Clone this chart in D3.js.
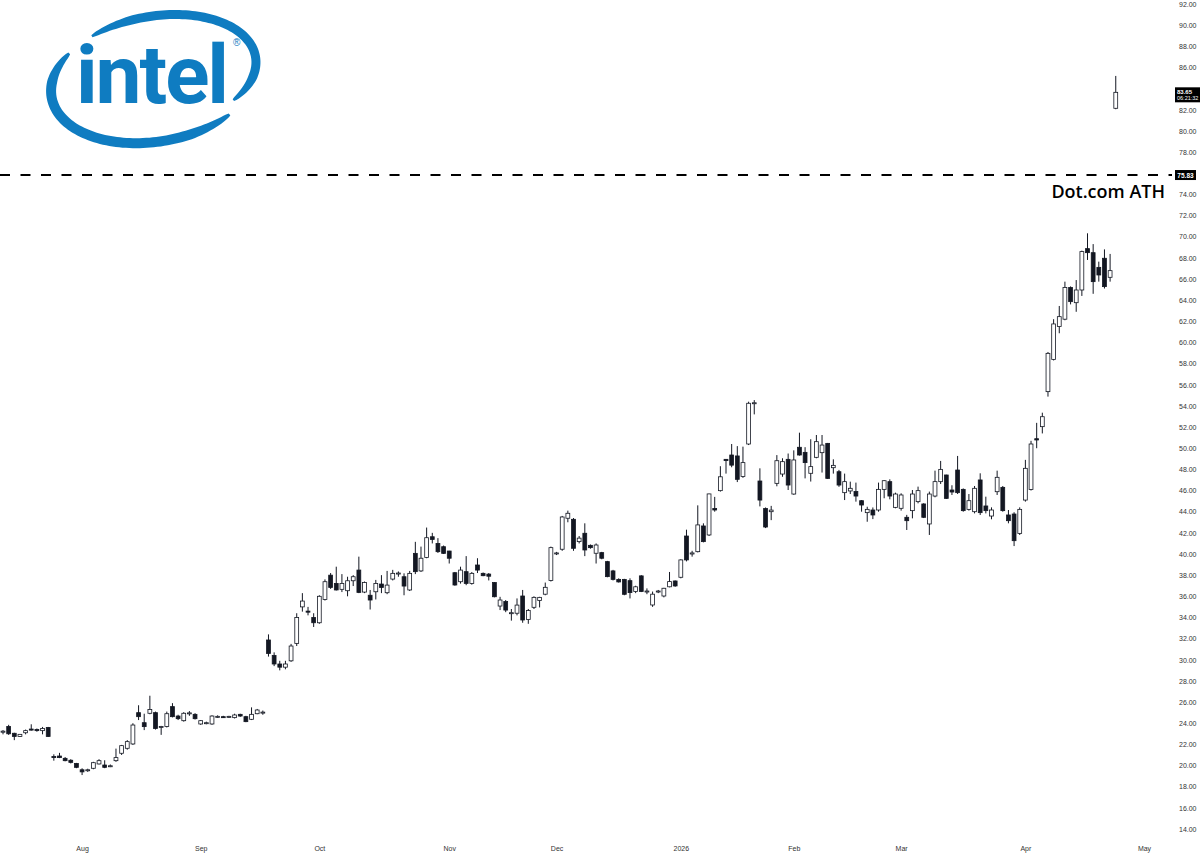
<!DOCTYPE html>
<html>
<head>
<meta charset="utf-8">
<script src="https://cdn.jsdelivr.net/npm/d3@7"></script>
<style>
  body { margin: 0; background: #fff; }
  svg { display: block; font-family: "Liberation Sans", Arial, sans-serif; }
</style>
</head>
<body>
<div id="chart"></div>
<script>
// INTC daily candles, 14 Jul 2025 - 24 Apr 2026
const firstSession = "2025-07-14";
const lastSession = "2026-05-01";   // axis runs past the last candle, like the screenshot
const holidays = ["2025-09-01", "2025-11-27", "2025-12-25", "2026-01-01", "2026-01-19", "2026-02-16", "2026-04-03"];

const opens = [
  23.15, 23.7, 23.05, 22.75, 23.1, 23.45, 23.4, 23.3, 23.6,
  20.85, 20.9, 20.68, 20.5, 20.2,
  19.6, 19.55, 19.74, 20.15, 20.05, 19.95,
  20.46, 21.16, 21.63, 22.04, 25.0,
  24.05, 24.94, 25.0, 23.68, 23.7,
  25.57, 24.68, 24.24, 24.9, 24.84,
  23.93, 24.0, 23.93, 24.6,
  24.62, 24.6, 24.53, 24.84, 24.62,
  24.37, 24.9, 25.0, 31.87, 30.4,
  29.6, 29.3, 29.9, 31.55, 35.0,
  34.6, 34.0, 33.5, 35.7, 38.0,
  37.22, 36.66, 36.53, 37.47, 38.48,
  36.4, 36.1, 36.43, 37.16, 36.34,
  37.63, 38.17, 37.85, 36.6, 40.06,
  38.4, 39.68, 41.63, 41.0, 40.69,
  40.28, 38.23, 37.38, 38.33, 37.22,
  38.96, 38.17, 38.1, 37.3, 35.08,
  35.5, 34.4, 34.4, 36.03, 33.8,
  34.96, 35.6, 36.2, 37.5, 40.05,
  40.45, 43.38, 43.28, 41.17, 41.96,
  40.82, 40.07, 40.13, 39.28, 38.4,
  37.6, 37.6, 37.48, 36.45, 37.93,
  36.45, 35.18, 36.45, 36.03, 36.9,
  37.45, 37.8, 41.7, 40.0, 40.22,
  42.65, 41.8, 44.3, 45.99, 48.95,
  49.36, 49.27, 47.32, 50.4, 54.25,
  46.9, 44.3, 44.0, 46.68, 47.56,
  48.95, 45.67, 50.09, 49.61, 47.63,
  49.14, 49.58, 50.46, 48.16, 47.78,
  45.8, 45.96, 45.9, 45.04, 43.91,
  44.16, 44.16, 46.11, 46.84, 44.41,
  44.32, 43.47, 44.1, 44.95, 44.73,
  42.84, 45.48, 46.84, 47.47, 46.05,
  47.94, 46.11, 44.22, 44.0, 47.0,
  44.54, 43.59, 45.89, 46.3, 43.69,
  43.78, 41.95, 45.1, 46.1, 50.9,
  52.04, 55.35, 58.4, 61.5, 62.2,
  65.2, 63.76, 64.96, 68.87, 68.49,
  67.1, 67.96, 66.16, 82.14
];
const highs = [
  23.35, 23.85, 23.1, 22.95, 23.4, 23.9, 23.5, 23.65, 23.65,
  21.06, 21.2, 20.8, 20.6, 20.25,
  19.74, 19.7, 20.35, 20.6, 20.5, 20.1,
  21.6, 21.95, 22.4, 24.0, 25.7,
  24.9, 26.6, 25.1, 23.75, 25.1,
  25.9, 24.8, 25.05, 25.15, 24.95,
  24.3, 24.15, 24.75, 24.75,
  24.7, 24.7, 24.9, 24.9, 24.7,
  25.5, 25.35, 25.2, 32.4, 30.7,
  29.9, 29.9, 31.5, 34.4, 36.3,
  35.0, 34.4, 36.1, 37.6, 38.2,
  38.8, 38.1, 37.85, 38.0, 39.75,
  37.4, 36.6, 37.55, 38.0, 38.4,
  38.5, 38.35, 38.17, 38.4, 41.15,
  40.7, 42.5, 42.0, 41.5, 40.8,
  40.3, 38.3, 38.8, 39.8, 38.3,
  39.6, 38.25, 38.2, 37.35, 35.95,
  35.65, 34.8, 35.8, 36.6, 34.8,
  36.0, 35.95, 37.3, 40.7, 40.2,
  43.6, 44.1, 43.4, 41.7, 42.9,
  40.9, 41.0, 40.2, 39.35, 38.5,
  37.7, 37.65, 37.7, 37.0, 38.0,
  36.75, 36.45, 36.6, 36.8, 38.3,
  37.5, 39.5, 42.3, 40.3, 44.6,
  42.9, 45.7, 45.4, 48.3, 48.98,
  50.4, 50.2, 50.15, 54.4, 54.55,
  48.1, 44.4, 44.55, 49.35, 49.05,
  49.5, 49.8, 51.47, 50.1, 50.85,
  51.25, 51.25, 50.5, 48.95, 47.95,
  47.6, 46.84, 46.75, 45.1, 44.47,
  44.4, 46.75, 46.99, 47.06, 45.8,
  45.74, 43.7, 46.05, 46.37, 44.8,
  45.9, 47.88, 48.8, 47.5, 46.5,
  49.27, 46.2, 45.67, 46.43, 47.63,
  45.42, 44.41, 47.88, 46.43, 44.16,
  43.95, 44.41, 48.9, 50.7, 52.4,
  53.36, 59.1, 62.2, 63.45, 65.75,
  65.3, 65.9, 68.68, 70.32, 69.3,
  67.64, 68.8, 68.37, 85.2
];
const lows = [
  22.95, 22.9, 22.4, 22.7, 22.95, 23.3, 23.2, 22.95, 22.7,
  20.46, 20.7, 20.4, 20.2, 19.75,
  19.1, 19.4, 19.65, 20.1, 19.75, 19.85,
  20.35, 21.0, 21.5, 21.95, 24.3,
  23.35, 24.85, 23.4, 22.9, 23.6,
  24.55, 24.3, 24.15, 24.7, 24.35,
  23.85, 23.9, 23.85, 24.5,
  24.5, 24.5, 24.45, 24.6, 24.1,
  24.3, 24.85, 24.8, 30.3, 29.4,
  29.0, 29.1, 29.8, 31.3, 34.55,
  34.2, 33.1, 33.4, 35.6, 36.7,
  36.55, 36.4, 36.0, 36.97, 36.3,
  36.3, 34.75, 35.7, 36.3, 36.2,
  37.5, 37.85, 36.1, 36.5, 38.1,
  38.3, 39.6, 41.0, 40.1, 40.0,
  39.1, 37.0, 37.2, 37.05, 37.1,
  38.2, 37.9, 37.5, 35.9, 34.7,
  34.5, 33.7, 34.2, 33.5, 33.4,
  34.8, 34.95, 36.1, 37.4, 39.9,
  40.3, 43.0, 40.3, 41.0, 39.8,
  40.5, 39.1, 39.5, 37.8, 37.5,
  37.3, 36.1, 35.8, 36.3, 36.4,
  36.2, 35.0, 36.3, 35.9, 36.85,
  36.9, 37.7, 39.3, 39.75, 40.15,
  41.1, 41.7, 44.0, 45.9, 47.6,
  48.2, 46.8, 47.2, 50.3, 53.2,
  44.5, 42.45, 43.2, 46.4, 47.3,
  46.05, 45.6, 49.3, 47.15, 46.85,
  49.05, 47.7, 47.1, 47.6, 46.35,
  45.1, 45.67, 44.95, 44.0, 43.05,
  43.3, 44.0, 45.27, 45.17, 44.32,
  44.1, 42.27, 43.37, 44.79, 43.4,
  41.8, 45.36, 46.62, 45.2, 45.58,
  45.67, 44.0, 44.1, 43.84, 43.69,
  43.84, 43.28, 45.58, 44.0, 42.9,
  40.75, 41.8, 44.95, 46.0, 50.0,
  51.4, 54.88, 58.3, 60.87, 62.1,
  63.6, 62.9, 64.4, 67.8, 64.6,
  65.75, 65.1, 65.75, 82.05
];
const closes = [
  23.25, 23.0, 22.75, 22.95, 23.3, 23.35, 23.3, 23.5, 22.75,
  20.75, 20.75, 20.46, 20.3, 19.83,
  19.4, 19.6, 20.27, 20.46, 19.83, 19.98,
  20.75, 21.88, 22.26, 23.83, 24.62,
  23.68, 25.3, 23.5, 23.7, 24.9,
  24.62, 24.43, 24.94, 24.98, 24.43,
  24.24, 24.05, 24.68, 24.65,
  24.6, 24.65, 24.78, 24.68, 24.15,
  24.84, 25.25, 25.05, 30.6, 29.6,
  29.3, 29.6, 31.3, 34.0, 35.55,
  34.5, 33.5, 36.0, 37.38, 36.84,
  36.6, 37.22, 37.47, 37.85, 36.37,
  37.3, 35.65, 37.22, 36.84, 37.06,
  38.17, 38.2, 36.97, 38.17, 38.33,
  39.6, 41.54, 41.38, 40.22, 40.06,
  39.6, 37.07, 38.48, 37.22, 38.17,
  38.48, 37.95, 37.9, 35.96, 35.65,
  34.7, 34.45, 35.17, 33.76, 34.65,
  35.9, 35.9, 36.85, 40.6, 40.1,
  43.5, 43.85, 40.54, 41.5, 40.38,
  40.6, 40.85, 39.6, 37.86, 37.6,
  37.36, 36.19, 36.35, 36.9, 36.45,
  36.5, 36.2, 36.5, 36.76, 37.39,
  36.98, 39.44, 39.44, 40.1, 42.75,
  41.17, 45.68, 44.16, 47.3, 48.83,
  48.4, 47.06, 48.64, 54.25, 54.3,
  45.1, 42.55, 44.15, 48.82, 48.73,
  46.52, 48.89, 49.36, 48.64, 48.26,
  50.62, 50.3, 47.15, 48.38, 46.52,
  46.84, 46.21, 45.48, 44.63, 44.22,
  43.69, 46.11, 46.93, 45.48, 45.67,
  45.58, 43.15, 45.67, 45.99, 43.47,
  45.67, 46.84, 48.0, 45.26, 45.86,
  45.8, 44.1, 45.04, 46.21, 43.91,
  44.1, 44.16, 47.25, 44.1, 43.15,
  41.26, 44.22, 48.1, 50.4, 50.78,
  52.98, 58.97, 61.75, 62.44, 65.2,
  63.86, 64.96, 68.59, 68.49, 65.75,
  66.38, 65.28, 66.79, 83.65
];

// scale labels; 76 and 84 sit under the price tags
const yTicks = [14, 16, 18, 20, 22, 24, 26, 28, 30, 32, 34, 36, 38, 40, 42, 44, 46, 48, 50, 52,
  54, 56, 58, 60, 62, 64, 66, 68, 70, 72, 74, 78, 80, 82, 86, 88, 90, 92];
const monthNames = ["Jan", "Feb", "Mar", "Apr", "May", "Jun", "Jul", "Aug", "Sep", "Oct", "Nov", "Dec"];

const athLevel = 75.83;
const athText = "Dot.com ATH";
const lastPrice = 83.65;
const countdown = "06:21:32";

const width = 1200, height = 853;
const blue = "#0f7cc1";

// trading sessions (weekdays minus exchange holidays)
const sessions = [];
for (let d = new Date(firstSession + "T12:00:00Z"); d <= new Date(lastSession + "T12:00:00Z"); d.setUTCDate(d.getUTCDate() + 1)) {
  const s = d.toISOString().slice(0, 10);
  if (d.getUTCDay() === 0 || d.getUTCDay() === 6 || holidays.includes(s)) continue;
  sessions.push(s);
}

const candles = opens.map((o, i) => ({
  date: sessions[i], o, h: highs[i], l: lows[i], c: closes[i]
}));

const monthStarts = sessions.filter((s, i) => i > 0 && s.slice(5, 7) !== sessions[i - 1].slice(5, 7));

// January shows the year instead of the month
const monthLabel = s => {
  const m = +s.slice(5, 7);
  return m === 1 ? s.slice(0, 4) : monthNames[m - 1];
};

const x = d3.scalePoint()
  .domain(sessions)
  .range([3, 1144]);

const y = d3.scaleLinear()
  .domain([14, 92])
  .range([829, 4]);

const svg = d3.select("#chart")
  .append("svg")
  .attr("width", width)
  .attr("height", height);

svg.append("rect").attr("width", width).attr("height", height).attr("fill", "#fff");

// ---- intel logo ----
const logo = svg.append("g").attr("fill", blue);

const C = [157, 79], ra = 107, rb = 63, phi = -10 * Math.PI / 180;
const onEllipse = (t, s) => {
  const ex = s * ra * Math.cos(t), ey = s * rb * Math.sin(t);
  return [C[0] + ex * Math.cos(phi) - ey * Math.sin(phi), C[1] + ex * Math.sin(phi) + ey * Math.cos(phi)];
};
const ribbon = (t0, t1, sEnd, w) => {
  const n = 90, left = [], right = [];
  const at = u => onEllipse(t0 + (t1 - t0) * u, 1 - (1 - sEnd) * Math.pow(u, 3));
  for (let i = 0; i <= n; i++) {
    const u = i / n;
    const p = at(u), q = at(Math.min(1, u + 0.005)), r = at(Math.max(0, u - 0.005));
    const tx = q[0] - r[0], ty = q[1] - r[1], len = Math.hypot(tx, ty);
    const taper = Math.pow(Math.min(1, u / 0.15, (1 - u) / 0.15), 0.6);
    const hw = (w * (0.25 + 0.75 * taper)) / 2;
    left.push([p[0] - ty / len * hw, p[1] + tx / len * hw]);
    right.push([p[0] + ty / len * hw, p[1] - tx / len * hw]);
  }
  return "M" + left.concat(right.reverse()).map(p => p.join(",")).join("L") + "Z";
};
const rad = deg => deg * Math.PI / 180;
logo.append("path").attr("d", ribbon(rad(-122), rad(39), 0.86, 9));
logo.append("path").attr("d", ribbon(rad(220), rad(51), 0.97, 10));

const word = logo.append("text")
  .attr("x", 76)
  .attr("y", 103)
  .attr("font-family", "Roboto, 'Liberation Sans', sans-serif")
  .attr("font-weight", 700)
  .attr("font-size", 82)
  .text("intel");
// squeeze the word to the logo's width with letter spacing
const natural = word.node().getComputedTextLength();
word.attr("letter-spacing", (151 - natural) / 5);

logo.append("text")
  .attr("x", 233)
  .attr("y", 46)
  .attr("font-size", 10)
  .text("®");

// ---- axes ----
svg.append("g")
  .attr("transform", `translate(1177,0)`)
  .call(d3.axisRight(y).tickValues(yTicks).tickFormat(d3.format(".2f")).tickSize(0).tickPadding(2))
  .call(g => g.select(".domain").remove())
  .call(g => g.selectAll(".tick text")
    .attr("font-size", 7)
    .attr("fill", "#333"));

svg.append("g")
  .attr("transform", `translate(0,846)`)
  .call(d3.axisBottom(x).tickValues(monthStarts).tickFormat(monthLabel).tickSize(0).tickPadding(0))
  .call(g => g.select(".domain").remove())
  .call(g => g.selectAll(".tick text")
    .attr("font-size", 7)
    .attr("fill", "#333"));

// ---- ATH line ----
svg.append("line")
  .attr("x1", 0)
  .attr("x2", 1172)
  .attr("y1", y(athLevel))
  .attr("y2", y(athLevel))
  .attr("stroke", "#000")
  .attr("stroke-width", 2)
  .attr("stroke-dasharray", "10,10.5");

svg.append("text")
  .attr("x", 1165)
  .attr("y", y(athLevel) + 23)
  .attr("text-anchor", "end")
  .attr("font-family", "'Open Sans', 'Liberation Sans', sans-serif")
  .attr("font-weight", 600)
  .attr("font-size", 18)
  .attr("fill", "#000")
  .text(athText);

// ---- candles ----
const bw = x.step() * 0.68;

const candle = svg.append("g")
  .selectAll("g")
  .data(candles)
  .join("g")
  .attr("transform", d => `translate(${x(d.date)},0)`);

candle.append("line")
  .attr("y1", d => y(d.h))
  .attr("y2", d => y(d.l))
  .attr("stroke", "#131722")
  .attr("stroke-width", 1);

candle.append("rect")
  .attr("x", -bw / 2)
  .attr("y", d => y(Math.max(d.o, d.c)))
  .attr("width", bw)
  .attr("height", d => Math.max(1, Math.abs(y(d.o) - y(d.c))))
  .attr("fill", d => d.c >= d.o ? "#fff" : "#131722")
  .attr("stroke", "#131722")
  .attr("stroke-width", 0.8);

// ---- price tags on the scale ----
svg.append("rect")
  .attr("x", 1175).attr("y", y(athLevel) - 5)
  .attr("width", 21).attr("height", 10)
  .attr("fill", "#000");
svg.append("text")
  .attr("x", 1185.5).attr("y", y(athLevel) + 2.5)
  .attr("text-anchor", "middle")
  .attr("font-size", 6.5)
  .attr("font-weight", 700)
  .attr("fill", "#fff")
  .text(d3.format(".2f")(athLevel));

svg.append("rect")
  .attr("x", 1175).attr("y", y(lastPrice) - 5)
  .attr("width", 25).attr("height", 15)
  .attr("fill", "#000");
svg.append("text")
  .attr("x", 1177).attr("y", y(lastPrice) + 1.5)
  .attr("font-size", 6)
  .attr("font-weight", 700)
  .attr("fill", "#fff")
  .text(d3.format(".2f")(lastPrice));
svg.append("text")
  .attr("x", 1177).attr("y", y(lastPrice) + 8)
  .attr("font-size", 5.5)
  .attr("fill", "#fff")
  .text(countdown);
</script>
</body>
</html>
